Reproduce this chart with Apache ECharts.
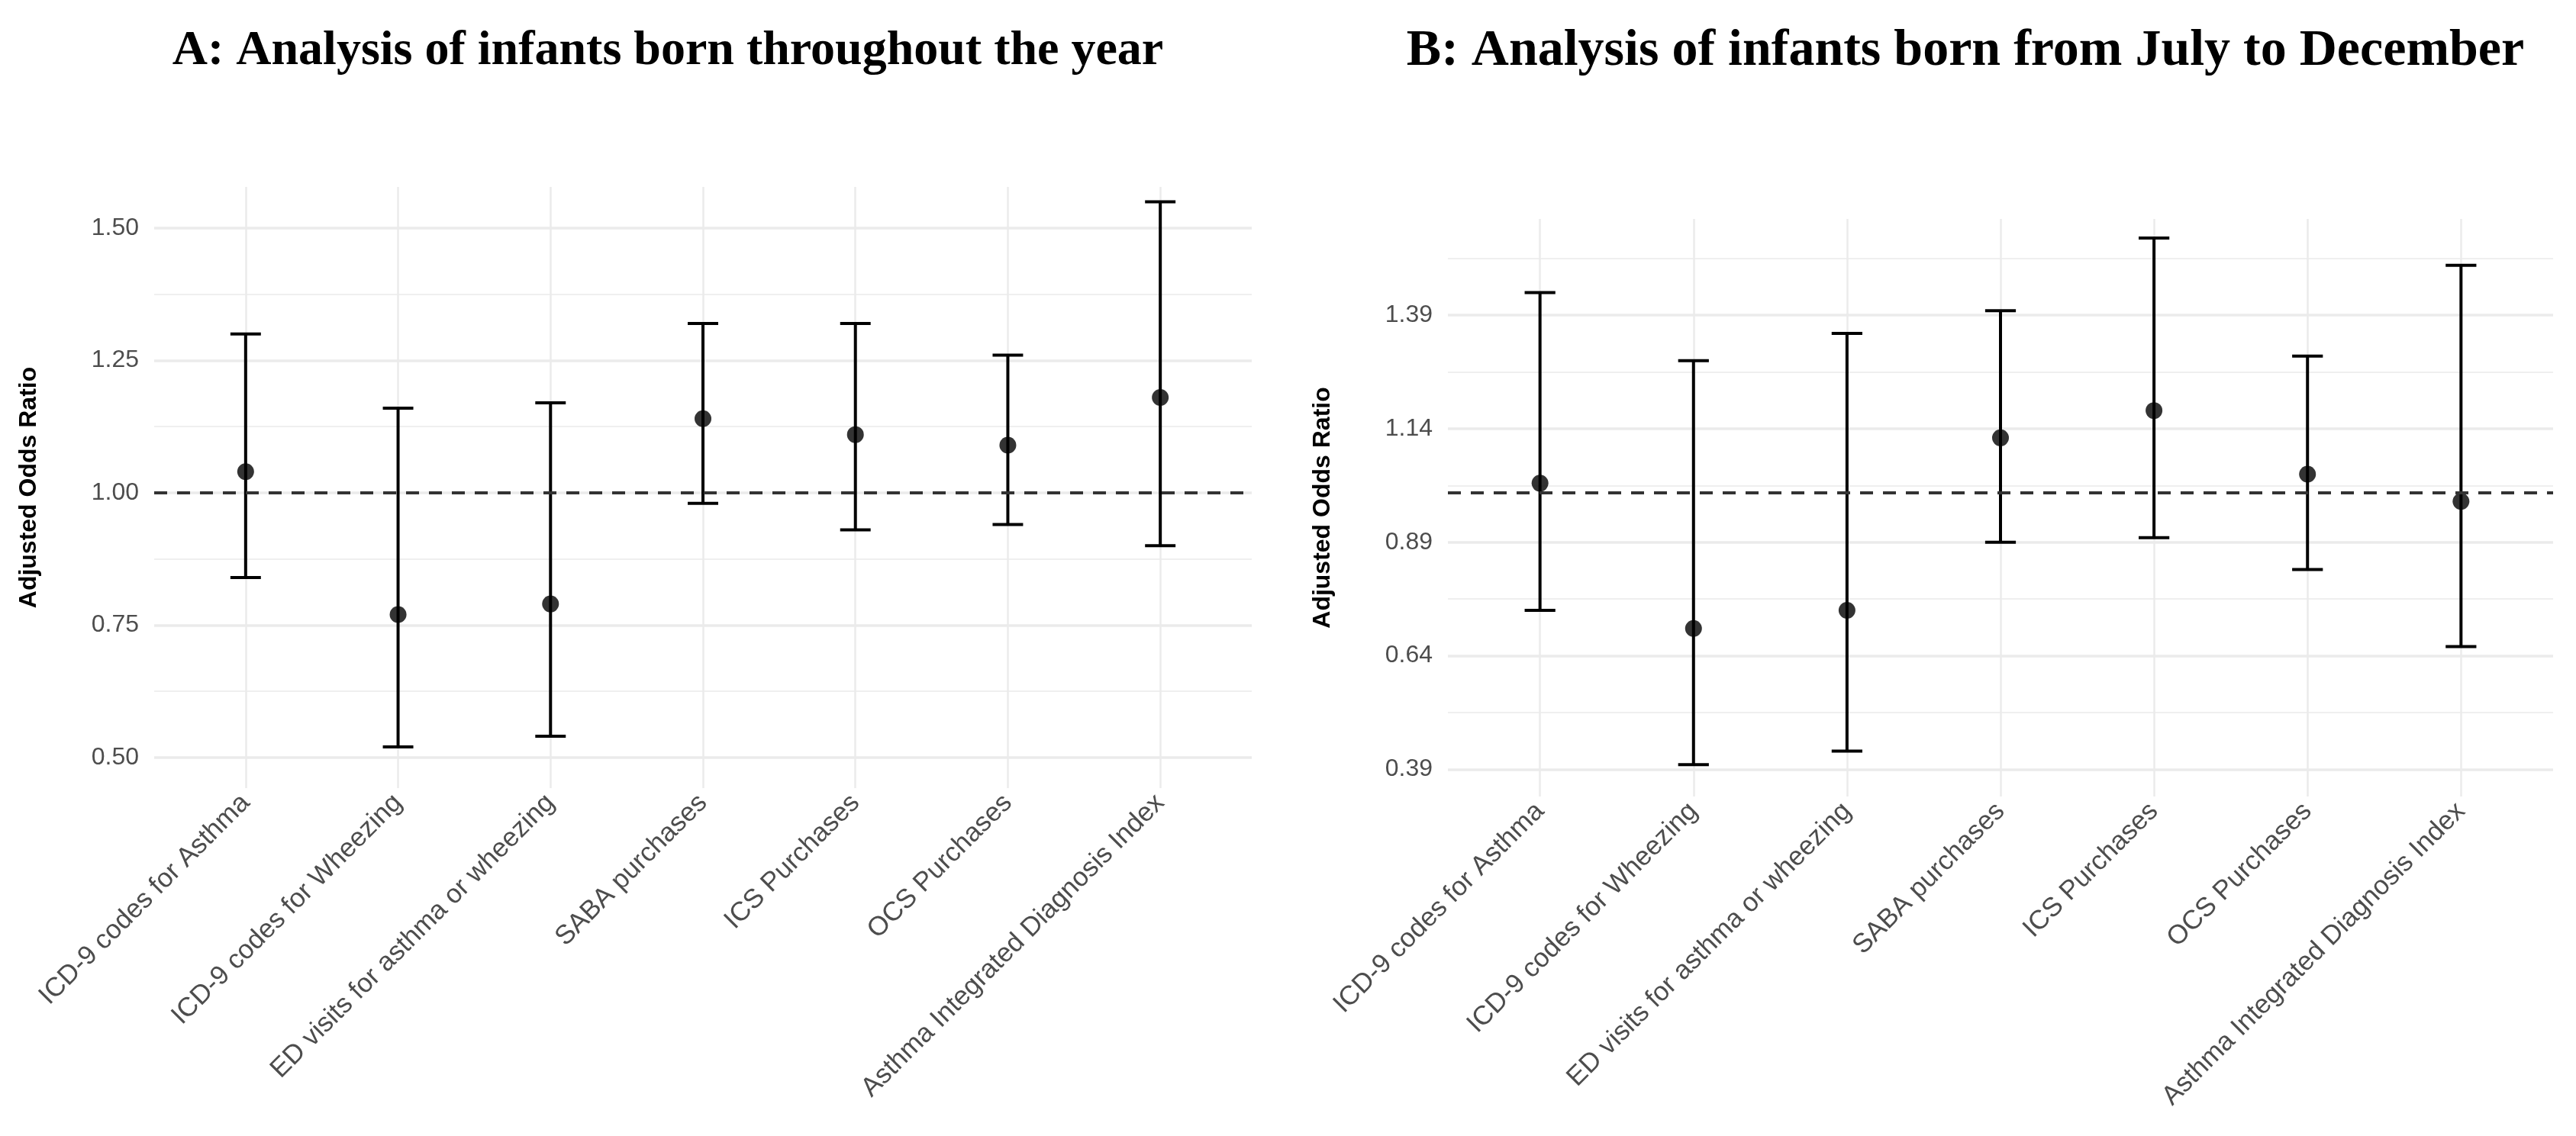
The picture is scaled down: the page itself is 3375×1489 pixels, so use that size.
<!DOCTYPE html>
<html>
<head>
<meta charset="utf-8">
<script src="https://cdn.jsdelivr.net/npm/echarts@6/dist/echarts.min.js"></script>
<style>
html,body{margin:0;padding:0;background:#fff;}
#chart{width:3375px;height:1489px;}
</style>
</head>
<body>
<div id="chart"></div>
<script>
const categories = [
  'ICD-9 codes for Asthma',
  'ICD-9 codes for Wheezing',
  'ED visits for asthma or wheezing',
  'SABA purchases',
  'ICS Purchases',
  'OCS Purchases',
  'Asthma Integrated Diagnosis Index'
];
const titleA = 'A: Analysis of infants born throughout the year';
const titleB = 'B: Analysis of infants born from July to December';
const yAxisTitle = 'Adjusted Odds Ratio';

// Panel A
const estA  = [1.04, 0.77, 0.79, 1.14, 1.11, 1.09, 1.18];
const lowA  = [0.84, 0.52, 0.54, 0.98, 0.93, 0.94, 0.90];
const highA = [1.30, 1.16, 1.17, 1.32, 1.32, 1.26, 1.55];
const yTicksA = [0.50, 0.75, 1.00, 1.25, 1.50];
const yMinorA = [0.625, 0.875, 1.125, 1.375];

// Panel B
const estB  = [1.02, 0.70, 0.74, 1.12, 1.18, 1.04, 0.98];
const lowB  = [0.74, 0.40, 0.43, 0.89, 0.90, 0.83, 0.66];
const highB = [1.44, 1.29, 1.35, 1.40, 1.56, 1.30, 1.50];
const yTicksB = [0.39, 0.64, 0.89, 1.14, 1.39];
const yMinorB = [0.515, 0.765, 1.015, 1.265, 1.515];

const refValue = 1;

const catIdx = categories.map((c, i) => i);
const sans = "'Liberation Sans', Arial, Helvetica, sans-serif";
const serif = "'Liberation Serif', 'Times New Roman', serif";

function xAxisCfg(gridIndex) {
  return {
    type: 'value', gridIndex, min: -0.6, max: categories.length - 0.4,
    axisLine: {show: false},
    axisTick: {show: false, customValues: catIdx},
    axisLabel: {
      customValues: catIdx, rotate: 45, margin: 14,
      fontSize: 35, color: '#4d4d4d', fontFamily: sans,
      formatter: v => categories[Math.round(v)]
    },
    splitLine: {show: true, lineStyle: {color: '#ebebeb', width: 2.5}}
  };
}
function yMajor(gridIndex, ticks, min, max) {
  return {
    type: 'value', gridIndex, min, max,
    name: yAxisTitle, nameLocation: 'middle', nameGap: 148,
    nameTextStyle: {fontSize: 32, fontWeight: 'bold', color: '#000', fontFamily: sans},
    axisLine: {show: false},
    axisTick: {show: false, customValues: ticks},
    axisLabel: {customValues: ticks, margin: 20, fontSize: 32, color: '#4d4d4d', fontFamily: sans,
      formatter: v => v.toFixed(2)},
    splitLine: {show: true, lineStyle: {color: '#ebebeb', width: 3.5}}
  };
}
function yMinor(gridIndex, ticks, min, max) {
  return {
    type: 'value', gridIndex, min, max, position: 'left',
    axisLine: {show: false},
    axisTick: {show: false, customValues: ticks},
    axisLabel: {show: false, customValues: ticks},
    splitLine: {show: true, lineStyle: {color: '#efefef', width: 2}}
  };
}

function errorSeries(xi, yi, low, high) {
  return {
    type: 'custom', xAxisIndex: xi, yAxisIndex: yi, z: 3,
    data: low.map((l, i) => [i, l, high[i]]),
    encode: {x: 0, y: [1, 2]},
    renderItem: (params, api) => {
      const x = api.value(0);
      const pLo = api.coord([x, api.value(1)]);
      const pHi = api.coord([x, api.value(2)]);
      const hw = api.size([0.2, 0])[0] / 2;
      const st = {stroke: '#000', lineWidth: 4};
      return {type: 'group', children: [
        {type: 'line', shape: {x1: pLo[0], y1: pLo[1], x2: pHi[0], y2: pHi[1]}, style: st},
        {type: 'line', shape: {x1: pHi[0] - hw, y1: pHi[1], x2: pHi[0] + hw, y2: pHi[1]}, style: st},
        {type: 'line', shape: {x1: pLo[0] - hw, y1: pLo[1], x2: pLo[0] + hw, y2: pLo[1]}, style: st}
      ]};
    }
  };
}
function pointSeries(xi, yi, est) {
  return {
    type: 'scatter', xAxisIndex: xi, yAxisIndex: yi, z: 4,
    data: est.map((v, i) => [i, v]),
    symbol: 'circle', symbolSize: 22,
    itemStyle: {color: '#000'},
    markLine: {
      silent: true, symbol: ['none', 'none'], label: {show: false},
      lineStyle: {type: [17, 13], color: '#333', width: 4},
      data: [{yAxis: refValue}]
    }
  };
}

const chart = echarts.init(document.getElementById('chart'));
chart.setOption({
  animation: false,
  backgroundColor: '#fff',
  title: [
    {text: titleA, left: 870, top: 30, textAlign: 'center',
     textStyle: {fontFamily: serif, fontWeight: 'bold', fontSize: 64, color: '#000'}},
    {text: titleB, left: 2570, top: 28, textAlign: 'center',
     textStyle: {fontFamily: serif, fontWeight: 'bold', fontSize: 68, color: '#000'}}
  ],
  grid: [
    {left: 202, top: 245, width: 1438, height: 788},
    {left: 1897, top: 287, width: 1448, height: 757}
  ],
  xAxis: [xAxisCfg(0), xAxisCfg(1)],
  yAxis: [
    yMajor(0, yTicksA, 0.442, 1.578),
    yMinor(0, yMinorA, 0.442, 1.578),
    yMajor(1, yTicksB, 0.33, 1.602),
    yMinor(1, yMinorB, 0.33, 1.602)
  ],
  series: [
    errorSeries(0, 0, lowA, highA),
    pointSeries(0, 0, estA),
    errorSeries(1, 2, lowB, highB),
    pointSeries(1, 2, estB)
  ]
});
</script>
</body>
</html>
